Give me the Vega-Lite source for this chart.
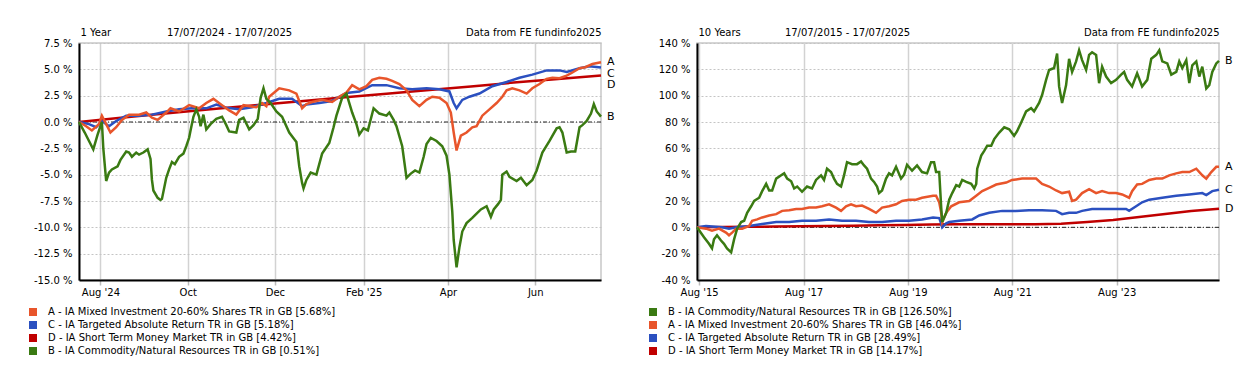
{
  "$schema": "https://vega.github.io/schema/vega-lite/v6.json",
  "padding": {"left": 27, "top": 26, "right": 5, "bottom": 5},
  "spacing": 96,
  "bounds": "flush",
  "datasets": {
    "names1": [
      {"code": "A", "name": "A - IA Mixed Investment 20-60% Shares TR in GB [5.68%]"},
      {"code": "C", "name": "C - IA Targeted Absolute Return TR in GB [5.18%]"},
      {"code": "D", "name": "D - IA Short Term Money Market TR in GB [4.42%]"},
      {"code": "B", "name": "B - IA Commodity/Natural Resources TR in GB [0.51%]"}
    ],
    "names10": [
      {"code": "B", "name": "B - IA Commodity/Natural Resources TR in GB [126.50%]"},
      {"code": "A", "name": "A - IA Mixed Investment 20-60% Shares TR in GB [46.04%]"},
      {"code": "C", "name": "C - IA Targeted Absolute Return TR in GB [28.49%]"},
      {"code": "D", "name": "D - IA Short Term Money Market TR in GB [14.17%]"}
    ],
    "oneYear": [
      {"code":"D","date":"2024-07-17","value":0},{"code":"D","date":"2024-08-17","value":0.42},{"code":"D","date":"2024-09-17","value":0.82},{"code":"D","date":"2024-10-17","value":1.2},{"code":"D","date":"2024-11-17","value":1.58},{"code":"D","date":"2024-12-17","value":1.95},{"code":"D","date":"2025-01-17","value":2.32},{"code":"D","date":"2025-02-17","value":2.68},{"code":"D","date":"2025-03-17","value":3.02},{"code":"D","date":"2025-04-17","value":3.38},{"code":"D","date":"2025-05-17","value":3.74},{"code":"D","date":"2025-06-17","value":4.08},{"code":"D","date":"2025-07-17","value":4.42},
      {"code":"C","date":"2024-07-17","value":0},{"code":"C","date":"2024-07-24","value":-0.2},{"code":"C","date":"2024-07-29","value":-0.5},{"code":"C","date":"2024-08-02","value":0.1},{"code":"C","date":"2024-08-07","value":-0.4},{"code":"C","date":"2024-08-12","value":0.1},{"code":"C","date":"2024-08-19","value":0.6},{"code":"C","date":"2024-08-28","value":0.6},{"code":"C","date":"2024-09-06","value":0.7},{"code":"C","date":"2024-09-16","value":1.0},{"code":"C","date":"2024-09-25","value":1.2},{"code":"C","date":"2024-10-04","value":1.3},{"code":"C","date":"2024-10-14","value":1.3},{"code":"C","date":"2024-10-21","value":1.65},{"code":"C","date":"2024-10-28","value":1.35},{"code":"C","date":"2024-11-06","value":1.2},{"code":"C","date":"2024-11-15","value":1.4},{"code":"C","date":"2024-11-25","value":1.8},{"code":"C","date":"2024-12-04","value":2.2},{"code":"C","date":"2024-12-13","value":2.2},{"code":"C","date":"2024-12-20","value":1.5},{"code":"C","date":"2024-12-23","value":1.65},{"code":"C","date":"2025-01-01","value":1.8},{"code":"C","date":"2025-01-10","value":2.0},{"code":"C","date":"2025-01-20","value":2.75},{"code":"C","date":"2025-01-29","value":2.9},{"code":"C","date":"2025-02-07","value":3.5},{"code":"C","date":"2025-02-17","value":3.5},{"code":"C","date":"2025-02-26","value":3.2},{"code":"C","date":"2025-03-07","value":3.1},{"code":"C","date":"2025-03-17","value":3.2},{"code":"C","date":"2025-03-26","value":3.1},{"code":"C","date":"2025-04-02","value":2.9},{"code":"C","date":"2025-04-05","value":1.8},{"code":"C","date":"2025-04-07","value":1.3},{"code":"C","date":"2025-04-11","value":2.1},{"code":"C","date":"2025-04-16","value":2.4},{"code":"C","date":"2025-04-23","value":2.7},{"code":"C","date":"2025-05-02","value":3.4},{"code":"C","date":"2025-05-12","value":3.8},{"code":"C","date":"2025-05-21","value":4.2},{"code":"C","date":"2025-05-30","value":4.5},{"code":"C","date":"2025-06-09","value":4.9},{"code":"C","date":"2025-06-18","value":4.9},{"code":"C","date":"2025-06-23","value":4.75},{"code":"C","date":"2025-07-02","value":5.1},{"code":"C","date":"2025-07-09","value":5.3},{"code":"C","date":"2025-07-17","value":5.18},
      {"code":"A","date":"2024-07-17","value":0},{"code":"A","date":"2024-07-22","value":-0.4},{"code":"A","date":"2024-07-26","value":-0.8},{"code":"A","date":"2024-07-31","value":-0.2},{"code":"A","date":"2024-08-02","value":0.6},{"code":"A","date":"2024-08-05","value":-0.2},{"code":"A","date":"2024-08-08","value":-1.0},{"code":"A","date":"2024-08-12","value":-0.5},{"code":"A","date":"2024-08-16","value":0.2},{"code":"A","date":"2024-08-21","value":0.7},{"code":"A","date":"2024-08-28","value":0.7},{"code":"A","date":"2024-09-02","value":0.9},{"code":"A","date":"2024-09-06","value":0.4},{"code":"A","date":"2024-09-10","value":0.2},{"code":"A","date":"2024-09-16","value":0.9},{"code":"A","date":"2024-09-19","value":1.3},{"code":"A","date":"2024-09-25","value":1.0},{"code":"A","date":"2024-10-02","value":1.6},{"code":"A","date":"2024-10-09","value":1.3},{"code":"A","date":"2024-10-14","value":1.8},{"code":"A","date":"2024-10-19","value":2.2},{"code":"A","date":"2024-10-25","value":1.6},{"code":"A","date":"2024-10-30","value":1.1},{"code":"A","date":"2024-11-04","value":0.7},{"code":"A","date":"2024-11-09","value":1.6},{"code":"A","date":"2024-11-18","value":1.4},{"code":"A","date":"2024-11-22","value":1.8},{"code":"A","date":"2024-11-25","value":1.5},{"code":"A","date":"2024-11-27","value":2.4},{"code":"A","date":"2024-12-04","value":3.2},{"code":"A","date":"2024-12-11","value":3.0},{"code":"A","date":"2024-12-16","value":2.7},{"code":"A","date":"2024-12-20","value":1.3},{"code":"A","date":"2024-12-23","value":1.7},{"code":"A","date":"2024-12-27","value":1.9},{"code":"A","date":"2025-01-03","value":2.1},{"code":"A","date":"2025-01-10","value":1.9},{"code":"A","date":"2025-01-15","value":2.4},{"code":"A","date":"2025-01-20","value":2.8},{"code":"A","date":"2025-01-24","value":3.5},{"code":"A","date":"2025-01-29","value":3.1},{"code":"A","date":"2025-02-03","value":3.4},{"code":"A","date":"2025-02-07","value":4.0},{"code":"A","date":"2025-02-12","value":4.2},{"code":"A","date":"2025-02-17","value":4.1},{"code":"A","date":"2025-02-21","value":3.9},{"code":"A","date":"2025-02-26","value":3.6},{"code":"A","date":"2025-03-03","value":3.0},{"code":"A","date":"2025-03-07","value":2.1},{"code":"A","date":"2025-03-12","value":1.5},{"code":"A","date":"2025-03-17","value":2.1},{"code":"A","date":"2025-03-21","value":2.4},{"code":"A","date":"2025-03-26","value":2.3},{"code":"A","date":"2025-03-31","value":1.8},{"code":"A","date":"2025-04-03","value":0.9},{"code":"A","date":"2025-04-05","value":-1.0},{"code":"A","date":"2025-04-07","value":-2.7},{"code":"A","date":"2025-04-10","value":-1.3},{"code":"A","date":"2025-04-14","value":-1.0},{"code":"A","date":"2025-04-18","value":-0.5},{"code":"A","date":"2025-04-21","value":-0.4},{"code":"A","date":"2025-04-25","value":0.6},{"code":"A","date":"2025-04-30","value":1.2},{"code":"A","date":"2025-05-05","value":1.8},{"code":"A","date":"2025-05-09","value":2.4},{"code":"A","date":"2025-05-12","value":3.0},{"code":"A","date":"2025-05-16","value":3.2},{"code":"A","date":"2025-05-21","value":3.0},{"code":"A","date":"2025-05-26","value":2.7},{"code":"A","date":"2025-05-30","value":3.2},{"code":"A","date":"2025-06-04","value":3.6},{"code":"A","date":"2025-06-09","value":4.1},{"code":"A","date":"2025-06-13","value":4.2},{"code":"A","date":"2025-06-18","value":4.15},{"code":"A","date":"2025-06-23","value":4.4},{"code":"A","date":"2025-06-27","value":4.7},{"code":"A","date":"2025-07-02","value":5.1},{"code":"A","date":"2025-07-06","value":5.2},{"code":"A","date":"2025-07-11","value":5.5},{"code":"A","date":"2025-07-17","value":5.68},
      {"code":"B","date":"2024-07-17","value":0},{"code":"B","date":"2024-07-21","value":-1.0},{"code":"B","date":"2024-07-24","value":-1.8},{"code":"B","date":"2024-07-27","value":-2.6},{"code":"B","date":"2024-07-30","value":-1.2},{"code":"B","date":"2024-08-02","value":0.0},{"code":"B","date":"2024-08-03","value":-2.5},{"code":"B","date":"2024-08-05","value":-5.6},{"code":"B","date":"2024-08-07","value":-4.8},{"code":"B","date":"2024-08-09","value":-4.5},{"code":"B","date":"2024-08-13","value":-4.2},{"code":"B","date":"2024-08-15","value":-3.6},{"code":"B","date":"2024-08-19","value":-2.8},{"code":"B","date":"2024-08-21","value":-2.9},{"code":"B","date":"2024-08-23","value":-3.3},{"code":"B","date":"2024-08-26","value":-2.9},{"code":"B","date":"2024-08-28","value":-3.1},{"code":"B","date":"2024-08-31","value":-2.9},{"code":"B","date":"2024-09-03","value":-2.6},{"code":"B","date":"2024-09-05","value":-3.5},{"code":"B","date":"2024-09-06","value":-5.5},{"code":"B","date":"2024-09-07","value":-6.5},{"code":"B","date":"2024-09-10","value":-7.2},{"code":"B","date":"2024-09-12","value":-7.4},{"code":"B","date":"2024-09-13","value":-7.3},{"code":"B","date":"2024-09-16","value":-5.3},{"code":"B","date":"2024-09-18","value":-4.5},{"code":"B","date":"2024-09-20","value":-3.8},{"code":"B","date":"2024-09-22","value":-4.0},{"code":"B","date":"2024-09-25","value":-3.3},{"code":"B","date":"2024-09-28","value":-3.0},{"code":"B","date":"2024-09-30","value":-2.3},{"code":"B","date":"2024-10-02","value":-1.5},{"code":"B","date":"2024-10-03","value":-0.8},{"code":"B","date":"2024-10-05","value":0.5},{"code":"B","date":"2024-10-07","value":1.2},{"code":"B","date":"2024-10-09","value":0.5},{"code":"B","date":"2024-10-10","value":-0.4},{"code":"B","date":"2024-10-12","value":0.7},{"code":"B","date":"2024-10-14","value":-0.7},{"code":"B","date":"2024-10-17","value":-0.2},{"code":"B","date":"2024-10-21","value":0.3},{"code":"B","date":"2024-10-25","value":0.5},{"code":"B","date":"2024-10-28","value":-0.3},{"code":"B","date":"2024-10-30","value":-0.9},{"code":"B","date":"2024-11-04","value":-1.0},{"code":"B","date":"2024-11-06","value":0.2},{"code":"B","date":"2024-11-09","value":0.4},{"code":"B","date":"2024-11-13","value":-0.7},{"code":"B","date":"2024-11-16","value":-0.3},{"code":"B","date":"2024-11-19","value":0.3},{"code":"B","date":"2024-11-21","value":2.3},{"code":"B","date":"2024-11-23","value":3.2},{"code":"B","date":"2024-11-25","value":2.2},{"code":"B","date":"2024-11-28","value":1.8},{"code":"B","date":"2024-12-02","value":1.0},{"code":"B","date":"2024-12-06","value":0.5},{"code":"B","date":"2024-12-11","value":-1.0},{"code":"B","date":"2024-12-16","value":-1.9},{"code":"B","date":"2024-12-18","value":-4.2},{"code":"B","date":"2024-12-20","value":-5.8},{"code":"B","date":"2024-12-21","value":-6.3},{"code":"B","date":"2024-12-23","value":-5.5},{"code":"B","date":"2024-12-26","value":-4.8},{"code":"B","date":"2024-12-30","value":-5.0},{"code":"B","date":"2025-01-03","value":-3.0},{"code":"B","date":"2025-01-08","value":-2.0},{"code":"B","date":"2025-01-11","value":-0.5},{"code":"B","date":"2025-01-13","value":0.6},{"code":"B","date":"2025-01-17","value":2.3},{"code":"B","date":"2025-01-20","value":2.7},{"code":"B","date":"2025-01-22","value":1.8},{"code":"B","date":"2025-01-24","value":0.9},{"code":"B","date":"2025-01-27","value":-0.2},{"code":"B","date":"2025-01-29","value":-1.2},{"code":"B","date":"2025-02-01","value":-0.6},{"code":"B","date":"2025-02-04","value":-0.8},{"code":"B","date":"2025-02-08","value":1.3},{"code":"B","date":"2025-02-12","value":0.8},{"code":"B","date":"2025-02-17","value":0.6},{"code":"B","date":"2025-02-19","value":0.9},{"code":"B","date":"2025-02-22","value":0.2},{"code":"B","date":"2025-02-24","value":-0.4},{"code":"B","date":"2025-02-28","value":-2.3},{"code":"B","date":"2025-03-03","value":-5.3},{"code":"B","date":"2025-03-06","value":-4.9},{"code":"B","date":"2025-03-09","value":-4.6},{"code":"B","date":"2025-03-12","value":-4.8},{"code":"B","date":"2025-03-15","value":-3.3},{"code":"B","date":"2025-03-17","value":-2.1},{"code":"B","date":"2025-03-20","value":-1.5},{"code":"B","date":"2025-03-24","value":-1.8},{"code":"B","date":"2025-03-28","value":-2.3},{"code":"B","date":"2025-03-31","value":-3.2},{"code":"B","date":"2025-04-02","value":-5.0},{"code":"B","date":"2025-04-04","value":-8.5},{"code":"B","date":"2025-04-05","value":-11.2},{"code":"B","date":"2025-04-07","value":-13.8},{"code":"B","date":"2025-04-09","value":-11.9},{"code":"B","date":"2025-04-11","value":-10.4},{"code":"B","date":"2025-04-14","value":-9.6},{"code":"B","date":"2025-04-18","value":-9.1},{"code":"B","date":"2025-04-21","value":-8.7},{"code":"B","date":"2025-04-24","value":-8.3},{"code":"B","date":"2025-04-28","value":-8.0},{"code":"B","date":"2025-05-01","value":-9.0},{"code":"B","date":"2025-05-03","value":-8.3},{"code":"B","date":"2025-05-06","value":-7.8},{"code":"B","date":"2025-05-08","value":-7.4},{"code":"B","date":"2025-05-09","value":-5.0},{"code":"B","date":"2025-05-12","value":-4.7},{"code":"B","date":"2025-05-14","value":-5.2},{"code":"B","date":"2025-05-19","value":-5.6},{"code":"B","date":"2025-05-22","value":-5.3},{"code":"B","date":"2025-05-26","value":-6.0},{"code":"B","date":"2025-05-30","value":-5.5},{"code":"B","date":"2025-06-02","value":-4.6},{"code":"B","date":"2025-06-06","value":-2.9},{"code":"B","date":"2025-06-11","value":-1.8},{"code":"B","date":"2025-06-16","value":-0.6},{"code":"B","date":"2025-06-18","value":-0.5},{"code":"B","date":"2025-06-20","value":-1.0},{"code":"B","date":"2025-06-23","value":-2.9},{"code":"B","date":"2025-06-26","value":-2.8},{"code":"B","date":"2025-06-29","value":-2.8},{"code":"B","date":"2025-07-02","value":-0.5},{"code":"B","date":"2025-07-04","value":-0.3},{"code":"B","date":"2025-07-07","value":0.1},{"code":"B","date":"2025-07-10","value":0.8},{"code":"B","date":"2025-07-12","value":1.7},{"code":"B","date":"2025-07-14","value":1.0},{"code":"B","date":"2025-07-17","value":0.51}
    ],
    "tenYear": [
      {"code":"D","date":"2015-07-17","value":0},{"code":"D","date":"2016-01-15","value":0.2},{"code":"D","date":"2016-07-15","value":0.45},{"code":"D","date":"2017-01-13","value":0.6},{"code":"D","date":"2017-07-14","value":0.75},{"code":"D","date":"2018-01-12","value":0.95},{"code":"D","date":"2018-07-13","value":1.2},{"code":"D","date":"2019-01-11","value":1.5},{"code":"D","date":"2019-07-12","value":1.8},{"code":"D","date":"2020-01-10","value":2.1},{"code":"D","date":"2020-07-10","value":2.3},{"code":"D","date":"2021-01-08","value":2.3},{"code":"D","date":"2021-07-09","value":2.3},{"code":"D","date":"2022-01-07","value":2.4},{"code":"D","date":"2022-07-08","value":2.8},{"code":"D","date":"2023-01-06","value":4.0},{"code":"D","date":"2023-07-07","value":5.6},{"code":"D","date":"2024-01-05","value":7.8},{"code":"D","date":"2024-07-05","value":10.2},{"code":"D","date":"2025-01-03","value":12.4},{"code":"D","date":"2025-07-17","value":14.17},
      {"code":"C","date":"2015-07-17","value":0},{"code":"C","date":"2015-09-18","value":1},{"code":"C","date":"2016-01-08","value":0},{"code":"C","date":"2016-02-26","value":-1},{"code":"C","date":"2016-04-16","value":0},{"code":"C","date":"2016-07-15","value":1},{"code":"C","date":"2016-10-15","value":2.5},{"code":"C","date":"2017-01-21","value":4},{"code":"C","date":"2017-04-22","value":4},{"code":"C","date":"2017-07-21","value":5},{"code":"C","date":"2017-10-27","value":5},{"code":"C","date":"2018-01-26","value":6},{"code":"C","date":"2018-04-27","value":5},{"code":"C","date":"2018-08-03","value":5},{"code":"C","date":"2018-11-02","value":4},{"code":"C","date":"2019-02-01","value":4},{"code":"C","date":"2019-05-10","value":5},{"code":"C","date":"2019-08-09","value":5},{"code":"C","date":"2019-11-08","value":6},{"code":"C","date":"2020-01-24","value":7.5},{"code":"C","date":"2020-03-07","value":7},{"code":"C","date":"2020-03-14","value":5},{"code":"C","date":"2020-03-28","value":0},{"code":"C","date":"2020-04-25","value":3},{"code":"C","date":"2020-05-16","value":4},{"code":"C","date":"2020-07-25","value":5},{"code":"C","date":"2020-10-24","value":6},{"code":"C","date":"2020-12-12","value":9},{"code":"C","date":"2021-02-20","value":11},{"code":"C","date":"2021-05-22","value":12.5},{"code":"C","date":"2021-08-27","value":12.5},{"code":"C","date":"2021-11-26","value":13},{"code":"C","date":"2022-02-25","value":13},{"code":"C","date":"2022-06-03","value":12.5},{"code":"C","date":"2022-07-15","value":10},{"code":"C","date":"2022-09-02","value":11},{"code":"C","date":"2022-10-21","value":11},{"code":"C","date":"2022-12-02","value":12.5},{"code":"C","date":"2023-02-10","value":14},{"code":"C","date":"2023-04-21","value":14},{"code":"C","date":"2023-07-28","value":14},{"code":"C","date":"2023-10-06","value":14},{"code":"C","date":"2023-10-27","value":12.5},{"code":"C","date":"2023-12-15","value":16},{"code":"C","date":"2024-01-26","value":19},{"code":"C","date":"2024-03-16","value":21},{"code":"C","date":"2024-06-15","value":22.5},{"code":"C","date":"2024-09-21","value":24},{"code":"C","date":"2024-12-21","value":25},{"code":"C","date":"2025-03-22","value":26},{"code":"C","date":"2025-04-19","value":24.5},{"code":"C","date":"2025-05-31","value":27.5},{"code":"C","date":"2025-07-17","value":28.49},
      {"code":"A","date":"2015-07-17","value":0},{"code":"A","date":"2015-09-18","value":-1},{"code":"A","date":"2015-10-30","value":-2.5},{"code":"A","date":"2015-12-18","value":-1},{"code":"A","date":"2016-02-05","value":-4},{"code":"A","date":"2016-02-26","value":-6},{"code":"A","date":"2016-03-19","value":-4},{"code":"A","date":"2016-04-16","value":-1},{"code":"A","date":"2016-05-28","value":-1},{"code":"A","date":"2016-07-15","value":1},{"code":"A","date":"2016-08-06","value":5},{"code":"A","date":"2016-09-10","value":6},{"code":"A","date":"2016-10-15","value":7.5},{"code":"A","date":"2016-12-03","value":9},{"code":"A","date":"2017-01-21","value":10},{"code":"A","date":"2017-03-04","value":12.5},{"code":"A","date":"2017-04-22","value":13},{"code":"A","date":"2017-06-10","value":14},{"code":"A","date":"2017-07-21","value":14},{"code":"A","date":"2017-09-08","value":15},{"code":"A","date":"2017-10-27","value":15},{"code":"A","date":"2017-12-08","value":16},{"code":"A","date":"2018-01-26","value":17.5},{"code":"A","date":"2018-03-16","value":15},{"code":"A","date":"2018-04-20","value":12.5},{"code":"A","date":"2018-05-25","value":16},{"code":"A","date":"2018-06-29","value":17.5},{"code":"A","date":"2018-08-03","value":16},{"code":"A","date":"2018-09-14","value":16.5},{"code":"A","date":"2018-11-02","value":14},{"code":"A","date":"2018-12-21","value":11},{"code":"A","date":"2019-02-01","value":15},{"code":"A","date":"2019-03-22","value":16},{"code":"A","date":"2019-05-10","value":17.5},{"code":"A","date":"2019-06-21","value":20},{"code":"A","date":"2019-08-09","value":21},{"code":"A","date":"2019-09-27","value":21},{"code":"A","date":"2019-11-08","value":22.5},{"code":"A","date":"2020-01-24","value":24},{"code":"A","date":"2020-02-14","value":24},{"code":"A","date":"2020-03-07","value":19},{"code":"A","date":"2020-03-21","value":11},{"code":"A","date":"2020-03-28","value":4},{"code":"A","date":"2020-04-25","value":11},{"code":"A","date":"2020-05-30","value":16},{"code":"A","date":"2020-07-25","value":19},{"code":"A","date":"2020-10-03","value":20},{"code":"A","date":"2020-11-21","value":24},{"code":"A","date":"2021-01-02","value":27.5},{"code":"A","date":"2021-02-20","value":30},{"code":"A","date":"2021-04-10","value":32.5},{"code":"A","date":"2021-06-19","value":34},{"code":"A","date":"2021-07-30","value":36},{"code":"A","date":"2021-10-08","value":37},{"code":"A","date":"2022-01-14","value":37},{"code":"A","date":"2022-02-25","value":33},{"code":"A","date":"2022-04-15","value":31},{"code":"A","date":"2022-06-03","value":28},{"code":"A","date":"2022-07-15","value":26},{"code":"A","date":"2022-09-02","value":27},{"code":"A","date":"2022-09-23","value":20},{"code":"A","date":"2022-10-21","value":21},{"code":"A","date":"2022-12-02","value":26},{"code":"A","date":"2023-01-20","value":29},{"code":"A","date":"2023-03-10","value":26},{"code":"A","date":"2023-04-21","value":27.5},{"code":"A","date":"2023-06-09","value":26},{"code":"A","date":"2023-07-28","value":26},{"code":"A","date":"2023-09-08","value":25},{"code":"A","date":"2023-10-27","value":22.5},{"code":"A","date":"2023-11-17","value":27.5},{"code":"A","date":"2023-12-22","value":32.5},{"code":"A","date":"2024-01-26","value":33},{"code":"A","date":"2024-03-16","value":36},{"code":"A","date":"2024-05-04","value":37},{"code":"A","date":"2024-06-15","value":37},{"code":"A","date":"2024-08-03","value":39.5},{"code":"A","date":"2024-09-21","value":41},{"code":"A","date":"2024-11-02","value":42},{"code":"A","date":"2024-12-21","value":42},{"code":"A","date":"2025-02-08","value":44.5},{"code":"A","date":"2025-03-22","value":39.5},{"code":"A","date":"2025-04-19","value":37},{"code":"A","date":"2025-05-24","value":42},{"code":"A","date":"2025-06-28","value":46},{"code":"A","date":"2025-07-17","value":46.04},
      {"code":"B","date":"2015-07-17","value":0},{"code":"B","date":"2015-09-04","value":-7.5},{"code":"B","date":"2015-10-09","value":-12.5},{"code":"B","date":"2015-10-30","value":-16},{"code":"B","date":"2015-11-13","value":-9},{"code":"B","date":"2015-12-04","value":-6},{"code":"B","date":"2016-01-01","value":-10},{"code":"B","date":"2016-01-22","value":-12.5},{"code":"B","date":"2016-02-12","value":-16},{"code":"B","date":"2016-03-12","value":-19},{"code":"B","date":"2016-04-02","value":-9},{"code":"B","date":"2016-04-23","value":-1},{"code":"B","date":"2016-05-21","value":4},{"code":"B","date":"2016-06-11","value":5},{"code":"B","date":"2016-07-02","value":11},{"code":"B","date":"2016-07-30","value":16},{"code":"B","date":"2016-08-20","value":20},{"code":"B","date":"2016-09-24","value":22.5},{"code":"B","date":"2016-10-15","value":27.5},{"code":"B","date":"2016-11-12","value":33},{"code":"B","date":"2016-12-03","value":28},{"code":"B","date":"2016-12-24","value":28},{"code":"B","date":"2017-01-21","value":37},{"code":"B","date":"2017-02-25","value":39.5},{"code":"B","date":"2017-03-18","value":41},{"code":"B","date":"2017-04-08","value":37},{"code":"B","date":"2017-05-06","value":35},{"code":"B","date":"2017-05-27","value":29.5},{"code":"B","date":"2017-06-17","value":31},{"code":"B","date":"2017-07-21","value":27},{"code":"B","date":"2017-08-25","value":31},{"code":"B","date":"2017-09-29","value":29.5},{"code":"B","date":"2017-10-27","value":36},{"code":"B","date":"2017-12-01","value":39.5},{"code":"B","date":"2017-12-22","value":36},{"code":"B","date":"2018-01-12","value":44.5},{"code":"B","date":"2018-02-09","value":42},{"code":"B","date":"2018-03-02","value":37},{"code":"B","date":"2018-03-23","value":33},{"code":"B","date":"2018-04-20","value":31},{"code":"B","date":"2018-05-11","value":39.5},{"code":"B","date":"2018-06-01","value":49.5},{"code":"B","date":"2018-07-06","value":48},{"code":"B","date":"2018-08-10","value":48},{"code":"B","date":"2018-09-07","value":50},{"code":"B","date":"2018-09-28","value":47},{"code":"B","date":"2018-10-19","value":44.5},{"code":"B","date":"2018-11-16","value":37},{"code":"B","date":"2018-12-07","value":34.5},{"code":"B","date":"2018-12-28","value":31},{"code":"B","date":"2019-01-11","value":26},{"code":"B","date":"2019-02-01","value":28},{"code":"B","date":"2019-03-01","value":37},{"code":"B","date":"2019-03-22","value":41},{"code":"B","date":"2019-04-12","value":39.5},{"code":"B","date":"2019-05-10","value":46},{"code":"B","date":"2019-06-14","value":37},{"code":"B","date":"2019-07-05","value":40},{"code":"B","date":"2019-07-26","value":47.5},{"code":"B","date":"2019-08-30","value":43},{"code":"B","date":"2019-10-04","value":47},{"code":"B","date":"2019-11-08","value":42},{"code":"B","date":"2019-12-13","value":41},{"code":"B","date":"2020-01-10","value":49.5},{"code":"B","date":"2020-01-31","value":49.5},{"code":"B","date":"2020-02-14","value":42},{"code":"B","date":"2020-03-07","value":42},{"code":"B","date":"2020-03-21","value":15},{"code":"B","date":"2020-03-28","value":4},{"code":"B","date":"2020-04-25","value":11},{"code":"B","date":"2020-05-16","value":21},{"code":"B","date":"2020-06-06","value":26},{"code":"B","date":"2020-07-04","value":32},{"code":"B","date":"2020-07-25","value":31},{"code":"B","date":"2020-08-15","value":36},{"code":"B","date":"2020-09-12","value":34.5},{"code":"B","date":"2020-10-17","value":33},{"code":"B","date":"2020-11-07","value":29.5},{"code":"B","date":"2020-11-21","value":33},{"code":"B","date":"2020-11-28","value":44.5},{"code":"B","date":"2020-12-26","value":54.5},{"code":"B","date":"2021-01-16","value":58},{"code":"B","date":"2021-02-06","value":62},{"code":"B","date":"2021-03-06","value":62},{"code":"B","date":"2021-03-27","value":67},{"code":"B","date":"2021-05-01","value":72},{"code":"B","date":"2021-06-05","value":76},{"code":"B","date":"2021-07-10","value":74.5},{"code":"B","date":"2021-08-13","value":69.5},{"code":"B","date":"2021-09-03","value":73},{"code":"B","date":"2021-10-01","value":79.5},{"code":"B","date":"2021-11-05","value":88},{"code":"B","date":"2021-12-10","value":90.5},{"code":"B","date":"2021-12-31","value":88},{"code":"B","date":"2022-02-04","value":94.5},{"code":"B","date":"2022-02-25","value":100.5},{"code":"B","date":"2022-03-25","value":112},{"code":"B","date":"2022-04-15","value":119.5},{"code":"B","date":"2022-05-20","value":121},{"code":"B","date":"2022-06-10","value":132},{"code":"B","date":"2022-06-24","value":107},{"code":"B","date":"2022-07-15","value":94.5},{"code":"B","date":"2022-08-12","value":108},{"code":"B","date":"2022-09-02","value":128},{"code":"B","date":"2022-09-23","value":118},{"code":"B","date":"2022-10-21","value":126},{"code":"B","date":"2022-11-11","value":134.5},{"code":"B","date":"2022-12-02","value":127},{"code":"B","date":"2022-12-30","value":119.5},{"code":"B","date":"2023-01-20","value":131},{"code":"B","date":"2023-02-10","value":133},{"code":"B","date":"2023-03-10","value":131},{"code":"B","date":"2023-03-31","value":109.5},{"code":"B","date":"2023-04-21","value":122},{"code":"B","date":"2023-05-19","value":114.5},{"code":"B","date":"2023-06-23","value":109.5},{"code":"B","date":"2023-07-28","value":112},{"code":"B","date":"2023-09-01","value":116},{"code":"B","date":"2023-09-22","value":118},{"code":"B","date":"2023-10-13","value":112},{"code":"B","date":"2023-11-17","value":107},{"code":"B","date":"2023-12-22","value":117},{"code":"B","date":"2024-01-26","value":107},{"code":"B","date":"2024-03-02","value":112},{"code":"B","date":"2024-03-30","value":128},{"code":"B","date":"2024-05-04","value":131},{"code":"B","date":"2024-05-25","value":134.5},{"code":"B","date":"2024-06-15","value":126},{"code":"B","date":"2024-07-20","value":124.5},{"code":"B","date":"2024-08-17","value":116},{"code":"B","date":"2024-09-21","value":118},{"code":"B","date":"2024-10-12","value":126},{"code":"B","date":"2024-11-02","value":121},{"code":"B","date":"2024-11-30","value":127},{"code":"B","date":"2024-12-21","value":109.5},{"code":"B","date":"2025-01-11","value":123},{"code":"B","date":"2025-02-08","value":126},{"code":"B","date":"2025-03-01","value":114.5},{"code":"B","date":"2025-03-22","value":122},{"code":"B","date":"2025-04-19","value":105.5},{"code":"B","date":"2025-05-10","value":108},{"code":"B","date":"2025-05-31","value":118},{"code":"B","date":"2025-06-28","value":124.5},{"code":"B","date":"2025-07-17","value":126.5}
    ]
  },
  "hconcat": [
    {
      "width": 522,
      "height": 237,
      "data": {"name": "oneYear"},
      "transform": [{"lookup": "code", "from": {"data": {"name": "names1"}, "key": "code", "fields": ["name"]}}],
      "layer": [
        {
          "data": {"values": [{}]},
          "mark": {"type": "rule", "color": "#222222", "strokeDash": [4, 2, 1, 2], "strokeWidth": 1},
          "encoding": {"y": {"datum": 0, "type": "quantitative", "axis": null}}
        },
        {
          "mark": {"type": "line", "strokeWidth": 2.5},
          "encoding": {
            "x": {
              "field": "date", "type": "temporal",
              "scale": {"type": "utc", "domain": [{"year": 2024, "month": 7, "date": 17, "utc": true}, {"year": 2025, "month": 7, "date": 17, "utc": true}]},
              "axis": {
                "values": [{"year": 2024, "month": 8, "date": 1, "utc": true}, {"year": 2024, "month": 10, "date": 1, "utc": true}, {"year": 2024, "month": 12, "date": 1, "utc": true}, {"year": 2025, "month": 2, "date": 1, "utc": true}, {"year": 2025, "month": 4, "date": 1, "utc": true}, {"year": 2025, "month": 6, "date": 1, "utc": true}],
                "labelExpr": "utcFormat(datum.value, (datum.index == 0 || utcmonth(datum.value) == 1) ? \"%b '%y\" : '%b')",
                "grid": true, "gridColor": "#d2d2d2", "gridWidth": 1.5,
                "domainColor": "#000000", "domainWidth": 2,
                "tickColor": "#bbbbbb", "tickSize": 5, "tickWidth": 1.5,
                "labelPadding": 2,
                "title": "17/07/2024 - 17/07/2025", "titleX": 150, "titleY": -245, "titleAlign": "center", "titleBaseline": "alphabetic", "titleAnchor": null
              }
            },
            "y": {
              "field": "value", "type": "quantitative",
              "scale": {"domain": [-15, 7.5], "nice": false, "zero": false},
              "axis": {
                "values": [-15, -12.5, -10, -7.5, -5, -2.5, 0, 2.5, 5, 7.5],
                "labelExpr": "replace(format(datum.value, '.1f'), '\u2212', '-') + ' %'",
                "grid": true, "gridColor": "#c4c4c4", "gridDash": [2, 2], "gridWidth": 1,
                "domainColor": "#000000", "domainWidth": 2, "ticks": false, "labelPadding": 7,
                "title": "1 Year", "titleAngle": 0, "titleX": 1, "titleY": -8, "titleAlign": "left", "titleBaseline": "alphabetic", "titleAnchor": null
              }
            },
            "color": {
              "field": "name", "type": "nominal",
              "scale": {
                "domain": ["A - IA Mixed Investment 20-60% Shares TR in GB [5.68%]", "C - IA Targeted Absolute Return TR in GB [5.18%]", "D - IA Short Term Money Market TR in GB [4.42%]", "B - IA Commodity/Natural Resources TR in GB [0.51%]"],
                "range": ["#e8552b", "#2b50c0", "#c00000", "#3a7a12"]
              },
              "legend": {"orient": "none", "legendX": -51, "legendY": 264, "direction": "vertical", "title": null, "symbolType": "square", "symbolSize": 64, "symbolStrokeWidth": 0, "symbolOpacity": 1, "labelOffset": 10, "rowPadding": 3, "padding": 0, "labelLimit": 0,
                "encode": {"symbols": {"update": {"fill": {"scale": "concat_0_color", "field": "value"}, "fillOpacity": {"value": 1}}}}}
            }
          }
        },
        {
          "transform": [{"filter": {"field": "date", "gte": {"year": 2025, "month": 7, "date": 17, "utc": true}}}],
          "mark": {"type": "text", "align": "left", "baseline": "middle", "dx": 6, "fontSize": 11, "color": "#000000", "dy": {"expr": "datum.code == 'C' ? 7 : datum.code == 'D' ? 10 : 0"}},
          "encoding": {
            "x": {"field": "date", "type": "temporal"},
            "y": {
              "field": "value", "type": "quantitative",
              "axis": {"orient": "right", "labels": false, "ticks": false, "grid": false, "domain": false, "title": "Data from FE fundinfo2025", "titleAngle": 0, "titleX": 0, "titleY": -8, "titleAlign": "right", "titleBaseline": "alphabetic", "titleAnchor": null}
            },
            "text": {"field": "code"}
          }
        }
      ],
      "resolve": {"axis": {"y": "independent"}}
    },
    {
      "width": 522,
      "height": 237,
      "data": {"name": "tenYear"},
      "transform": [{"lookup": "code", "from": {"data": {"name": "names10"}, "key": "code", "fields": ["name"]}}],
      "layer": [
        {
          "data": {"values": [{}]},
          "mark": {"type": "rule", "color": "#222222", "strokeDash": [4, 2, 1, 2], "strokeWidth": 1},
          "encoding": {"y": {"datum": 0, "type": "quantitative", "axis": null}}
        },
        {
          "mark": {"type": "line", "strokeWidth": 2.5},
          "encoding": {
            "x": {
              "field": "date", "type": "temporal",
              "scale": {"type": "utc", "domain": [{"year": 2015, "month": 7, "date": 17, "utc": true}, {"year": 2025, "month": 7, "date": 17, "utc": true}]},
              "axis": {
                "values": [{"year": 2015, "month": 8, "date": 1, "utc": true}, {"year": 2017, "month": 8, "date": 1, "utc": true}, {"year": 2019, "month": 8, "date": 1, "utc": true}, {"year": 2021, "month": 8, "date": 1, "utc": true}, {"year": 2023, "month": 8, "date": 1, "utc": true}],
                "labelExpr": "utcFormat(datum.value, \"%b '%y\")",
                "grid": true, "gridColor": "#d2d2d2", "gridWidth": 1.5,
                "domainColor": "#000000", "domainWidth": 2,
                "tickColor": "#bbbbbb", "tickSize": 5, "tickWidth": 1.5,
                "labelPadding": 2,
                "title": "17/07/2015 - 17/07/2025", "titleX": 150, "titleY": -245, "titleAlign": "center", "titleBaseline": "alphabetic", "titleAnchor": null
              }
            },
            "y": {
              "field": "value", "type": "quantitative",
              "scale": {"domain": [-40, 140], "nice": false, "zero": false},
              "axis": {
                "values": [-40, -20, 0, 20, 40, 60, 80, 100, 120, 140],
                "labelExpr": "replace(format(datum.value, 'd'), '\u2212', '-') + ' %'",
                "grid": true, "gridColor": "#c4c4c4", "gridDash": [2, 2], "gridWidth": 1,
                "domainColor": "#000000", "domainWidth": 2, "ticks": false, "labelPadding": 7,
                "title": "10 Years", "titleAngle": 0, "titleX": 1, "titleY": -8, "titleAlign": "left", "titleBaseline": "alphabetic", "titleAnchor": null
              }
            },
            "color": {
              "field": "name", "type": "nominal",
              "scale": {
                "domain": ["B - IA Commodity/Natural Resources TR in GB [126.50%]", "A - IA Mixed Investment 20-60% Shares TR in GB [46.04%]", "C - IA Targeted Absolute Return TR in GB [28.49%]", "D - IA Short Term Money Market TR in GB [14.17%]"],
                "range": ["#3a7a12", "#e8552b", "#2b50c0", "#c00000"]
              },
              "legend": {"orient": "none", "legendX": -49, "legendY": 264, "direction": "vertical", "title": null, "symbolType": "square", "symbolSize": 64, "symbolStrokeWidth": 0, "symbolOpacity": 1, "labelOffset": 10, "rowPadding": 3, "padding": 0, "labelLimit": 0,
                "encode": {"symbols": {"update": {"fill": {"scale": "concat_1_color", "field": "value"}, "fillOpacity": {"value": 1}}}}}
            }
          }
        },
        {
          "transform": [{"filter": {"field": "date", "gte": {"year": 2025, "month": 7, "date": 17, "utc": true}}}],
          "mark": {"type": "text", "align": "left", "baseline": "middle", "dx": 6, "fontSize": 11, "color": "#000000"},
          "encoding": {
            "x": {"field": "date", "type": "temporal"},
            "y": {
              "field": "value", "type": "quantitative",
              "axis": {"orient": "right", "labels": false, "ticks": false, "grid": false, "domain": false, "title": "Data from FE fundinfo2025", "titleAngle": 0, "titleX": 0, "titleY": -8, "titleAlign": "right", "titleBaseline": "alphabetic", "titleAnchor": null}
            },
            "text": {"field": "code"}
          }
        }
      ],
      "resolve": {"axis": {"y": "independent"}}
    }
  ],
  "resolve": {"scale": {"color": "independent", "x": "independent", "y": "independent"}, "legend": {"color": "independent"}},
  "config": {
    "background": "#ffffff",
    "font": "DejaVu Sans",
    "view": {"stroke": "#c8c8c8", "strokeWidth": 1.5},
    "axis": {"labelFont": "DejaVu Sans", "labelFontSize": 10, "labelColor": "#000000", "titleFont": "DejaVu Sans", "titleFontSize": 10, "titleFontWeight": "normal", "titleColor": "#000000"},
    "legend": {"labelFont": "DejaVu Sans", "labelFontSize": 10, "labelColor": "#000000"},
    "text": {"font": "DejaVu Sans"}
  }
}
